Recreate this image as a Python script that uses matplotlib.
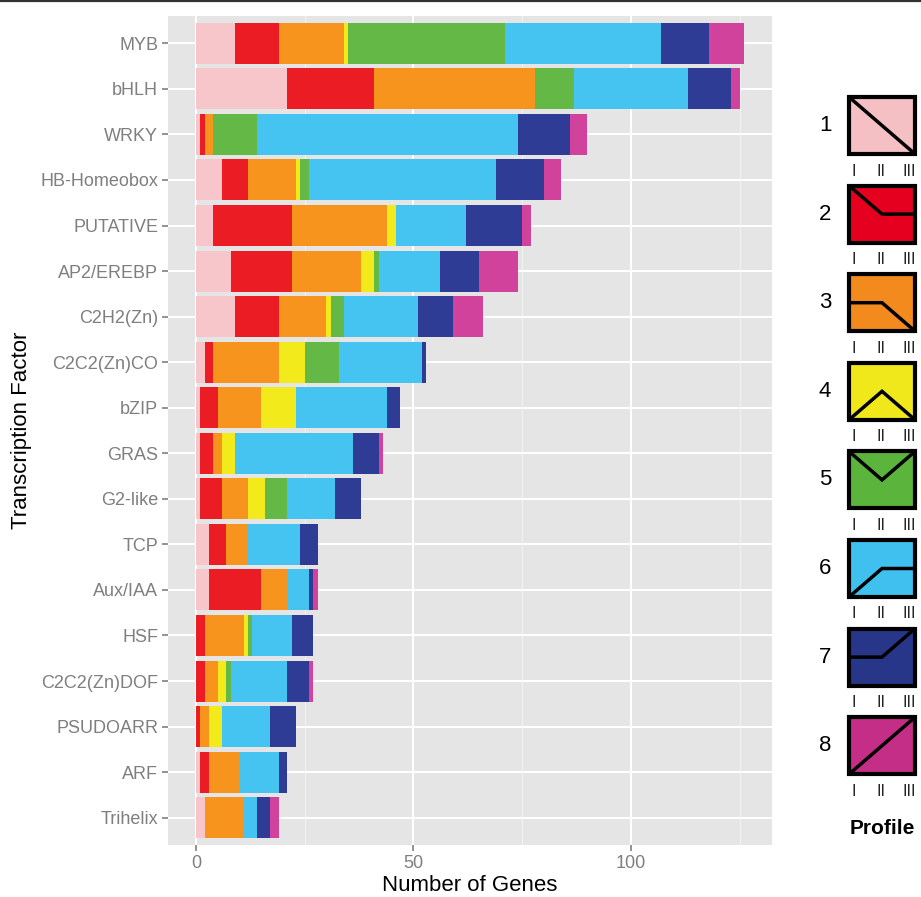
import matplotlib
matplotlib.use("Agg")
import matplotlib.pyplot as plt
from matplotlib.patches import Rectangle
from matplotlib.lines import Line2D
import numpy as np

plt.rcParams['font.family'] = ['Liberation Sans', 'DejaVu Sans']

##############################################################################
# Data (top to bottom)

categories = ["MYB", "bHLH", "WRKY", "HB-Homeobox", "PUTATIVE", "AP2/EREBP",
              "C2H2(Zn)", "C2C2(Zn)CO", "bZIP", "GRAS", "G2-like", "TCP",
              "Aux/IAA", "HSF", "C2C2(Zn)DOF", "PSUDOARR", "ARF", "Trihelix"]

profile1 = [9, 21, 1, 6, 4, 8, 9, 2, 1, 1, 1, 3, 3, 0, 0, 0, 1, 2]
profile2 = [10, 20, 1, 6, 18, 14, 10, 2, 4, 3, 5, 4, 12, 2, 2, 1, 2, 0]
profile3 = [15, 37, 2, 11, 22, 16, 11, 15, 10, 2, 6, 5, 6, 9, 3, 2, 7, 9]
profile4 = [1, 0, 0, 1, 2, 3, 1, 6, 8, 3, 4, 0, 0, 1, 2, 3, 0, 0]
profile5 = [36, 9, 10, 2, 0, 1, 3, 8, 0, 0, 5, 0, 0, 1, 1, 0, 0, 0]
profile6 = [36, 26, 60, 43, 16, 14, 17, 19, 21, 27, 11, 12, 5, 9, 13, 11, 9, 3]
profile7 = [11, 10, 12, 11, 13, 9, 8, 1, 3, 6, 6, 4, 1, 5, 5, 6, 2, 3]
profile8 = [8, 2, 4, 4, 2, 9, 7, 0, 0, 1, 0, 0, 1, 0, 1, 0, 0, 2]

profile_labels = ["1", "2", "3", "4", "5", "6", "7", "8"]
# expression pattern over stages I, II, III (fraction of box height)
profile_shapes = [(1, .5, 0), (1, .5, .5), (.5, .5, 0), (0, .5, 0),
                  (1, .5, 1), (0, .5, .5), (.5, .5, 1), (0, .5, 1)]
stage_labels = ["I", "II", "III"]

bar_colors = ["#F6C6CB", "#EC1C24", "#F7941D", "#F3EA1B",
              "#63B846", "#45C4F1", "#2E3C95", "#D0429B"]
key_colors = ["#F4C0C4", "#E6001F", "#F28A1E", "#F0E81A",
              "#5BB43B", "#3FC0EF", "#283689", "#C42E87"]

##############################################################################
# Figure

W, H = 921, 897
fig = plt.figure(figsize=(W / 100, H / 100), dpi=100)
ax = fig.add_axes([168 / W, 1 - 845 / H, (772 - 168) / W, (845 - 16) / H])
ax.set_facecolor("#E5E5E5")

profiles = [profile1, profile2, profile3, profile4,
            profile5, profile6, profile7, profile8]
ypos = np.arange(len(categories))
left = np.zeros(len(categories))
for vals, col in zip(profiles, bar_colors):
    vals = np.array(vals, dtype=float)
    ax.barh(ypos, vals, left=left, height=0.9, color=col, linewidth=0, zorder=3)
    left += vals

ax.set_ylim(len(categories) - 0.4, -0.6)
ax.set_xlim(-6.4, 132.4)

ax.set_xticks([0, 50, 100])
ax.set_xticks([25, 75, 125], minor=True)
ax.set_yticks(ypos)
ax.set_yticklabels(categories)
ax.grid(True, which="major", color="white", linewidth=1.4, zorder=1)
ax.grid(True, which="minor", axis="x", color="#F2F2F2", linewidth=0.8, zorder=1)
ax.set_axisbelow(True)
for s in ax.spines.values():
    s.set_visible(False)
ax.tick_params(axis="both", which="major", labelsize=13, colors="#7F7F7F",
               length=4, width=1.2, pad=3)
ax.tick_params(axis="both", which="minor", length=0)

ax.set_xlabel("Number of Genes", fontsize=16, labelpad=2)
ax.set_ylabel("Transcription Factor", fontsize=16, labelpad=6)

##############################################################################
# Profile key on the right

lax = fig.add_axes([0, 0, 1, 1])
lax.set_xlim(0, W)
lax.set_ylim(H, 0)
lax.axis("off")

bx, bw, bh = 849, 66, 57
for i, (lab, shape, col) in enumerate(zip(profile_labels, profile_shapes, key_colors)):
    top = 97 + i * 88.6
    lax.add_patch(Rectangle((bx, top), bw, bh, facecolor=col,
                            edgecolor="black", linewidth=3, zorder=2))
    xs = [bx, bx + bw / 2, bx + bw]
    ys = [top + bh * (1 - f) for f in shape]
    lax.plot(xs, ys, color="black", linewidth=2.5, zorder=3,
             solid_joinstyle="miter", solid_capstyle="butt")
    lax.text(825, top + bh / 2, lab, fontsize=16, ha="center", va="center")
    for sx, sl in zip([854, 880.5, 909], stage_labels):
        lax.text(sx, top + bh + 17, sl, fontsize=11.5, ha="center", va="center",
                 color="#222222")

lax.text(882, 828, "Profile", fontsize=15, fontweight="bold",
         ha="center", va="center")

# thin rule along the top edge
fig.add_artist(Line2D([0, 1], [1 - 1.5 / H, 1 - 1.5 / H], color="#333333",
                      linewidth=1.6))

fig.savefig("out.png", dpi=100)
